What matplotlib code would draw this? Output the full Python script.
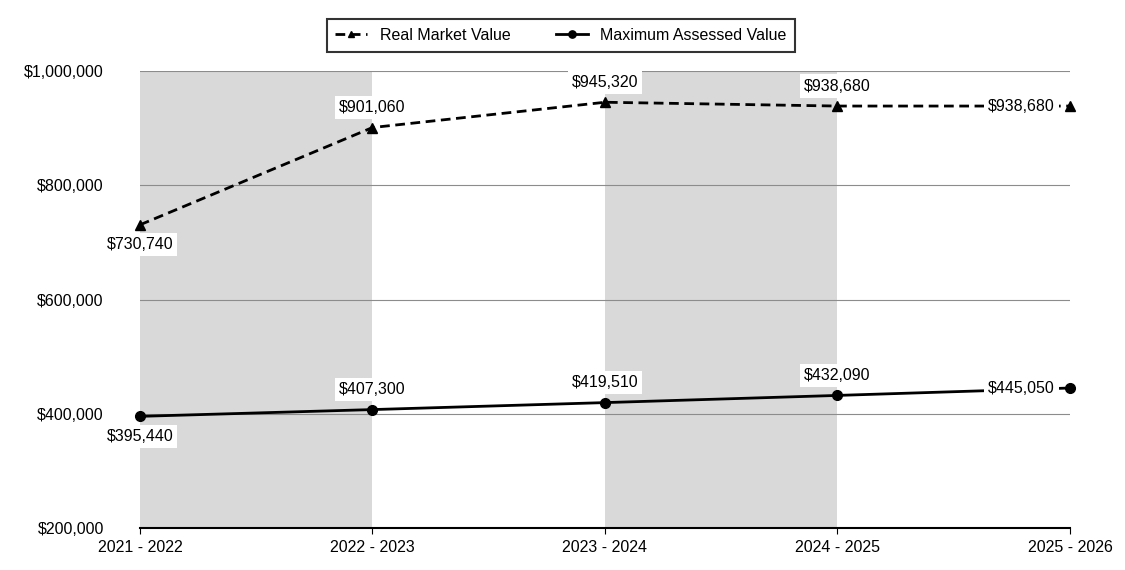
import matplotlib
matplotlib.use("Agg")
import matplotlib.pyplot as plt
from matplotlib.ticker import FuncFormatter

plt.rcParams['font.family'] = ['Liberation Sans', 'DejaVu Sans']

years = ["2021 - 2022", "2022 - 2023", "2023 - 2024", "2024 - 2025", "2025 - 2026"]
real_market = [730740, 901060, 945320, 938680, 938680]
max_assessed = [395440, 407300, 419510, 432090, 445050]
rmv_label_pos = ["below", "above", "above", "above", "left"]
mav_label_pos = ["below", "above", "above", "above", "left"]

fig = plt.figure(figsize=(11.25, 5.7), dpi=100)
ax = fig.add_axes([0.1244, 0.0737, 0.8267, 0.8017])

x = list(range(len(years)))

# shaded bands
for i in range(0, len(years) - 1, 2):
    ax.axvspan(x[i], x[i + 1], color="#d9d9d9", lw=0, zorder=0)

ax.set_ylim(200000, 1000000)
ax.set_xlim(0, 4)
ax.set_yticks([200000, 400000, 600000, 800000, 1000000])
ax.yaxis.set_major_formatter(FuncFormatter(lambda v, p: "${:,.0f}".format(v)))
ax.grid(axis="y", color="#8c8c8c", lw=0.8, zorder=1)
ax.set_axisbelow(True)
ax.set_xticks(x)
ax.set_xticklabels(years)
ax.tick_params(axis="y", length=0, labelsize=11.5, pad=26)
ax.tick_params(axis="x", length=4, labelsize=11.5, color="black", pad=5)
for s in ["top", "right", "left"]:
    ax.spines[s].set_visible(False)
ax.spines["bottom"].set_linewidth(1.5)

ax.plot(x, real_market, color="black", lw=2, ls=(0, (3.5, 2)), marker="^",
        markersize=6.5, label="Real Market Value", zorder=3, clip_on=False)
ax.plot(x, max_assessed, color="black", lw=2, marker="o",
        markersize=7, label="Maximum Assessed Value", zorder=3, clip_on=False)

box = dict(facecolor="white", edgecolor="none", pad=3)


def label(xs, ys, pos):
    for xi, yi, p in zip(xs, ys, pos):
        txt = "${:,.0f}".format(yi)
        if p == "below":
            ax.annotate(txt, (xi, yi), xytext=(0, -9), textcoords="offset points",
                        ha="center", va="top", fontsize=11.5, bbox=box, zorder=4)
        elif p == "above":
            ax.annotate(txt, (xi, yi), xytext=(0, 9), textcoords="offset points",
                        ha="center", va="bottom", fontsize=11.5, bbox=box, zorder=4)
        else:
            ax.annotate(txt, (xi, yi), xytext=(-11, 0), textcoords="offset points",
                        ha="right", va="center", fontsize=11.5, bbox=box, zorder=4)


label(x, real_market, rmv_label_pos)
label(x, max_assessed, mav_label_pos)

leg = fig.legend(loc="center", bbox_to_anchor=(0.4987, 0.938), ncol=2, frameon=True,
                 fancybox=False, edgecolor="black", fontsize=11.5, handlelength=2.0,
                 markerscale=0.75, columnspacing=2.8, borderpad=0.55)
leg.get_frame().set_linewidth(1.5)

fig.savefig("out.png", dpi=100)
